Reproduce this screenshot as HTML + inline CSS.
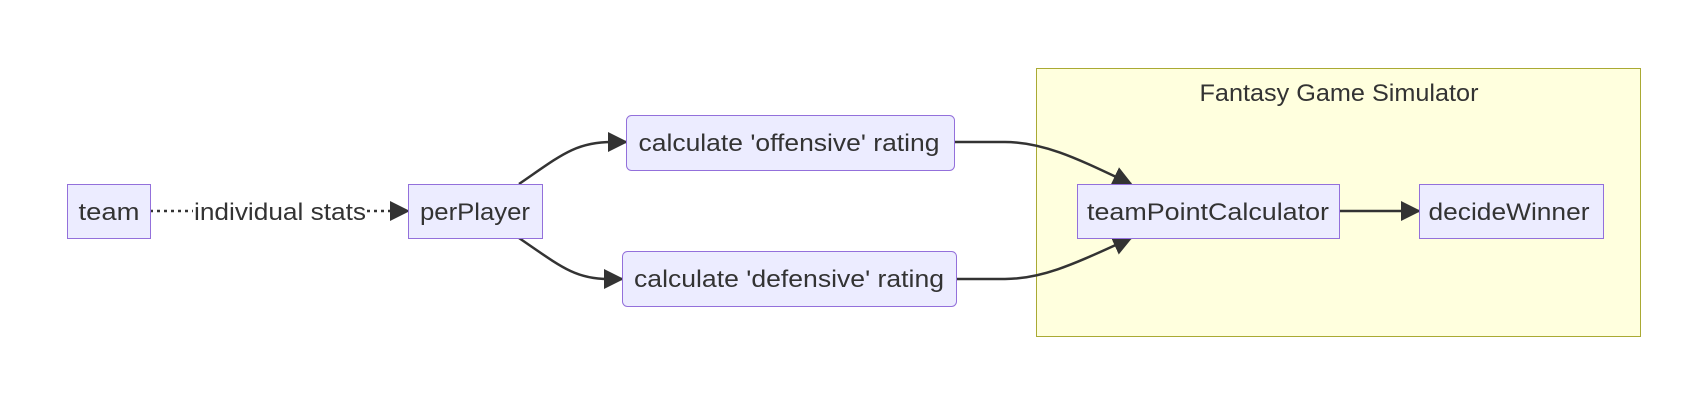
<!DOCTYPE html>
<html><head><meta charset="utf-8"><style>
html,body{margin:0;padding:0;background:#fff;}
svg{display:block;}
text{font-family:"Liberation Sans",sans-serif;font-size:24px;fill:#333;}
</style></head><body>
<svg width="1705" height="408" viewBox="0 0 1705 408" xmlns="http://www.w3.org/2000/svg">
<defs>
<marker id="b" viewBox="0 0 10 10" refX="9" refY="5" markerWidth="20" markerHeight="20" markerUnits="userSpaceOnUse" orient="auto"><path d="M0,0 L10,5 L0,10 z" fill="#333"/></marker>
</defs>
<rect x="1036.5" y="68.5" width="604" height="268" fill="#ffffde" stroke="#aaaa33" stroke-width="1"/>
<text x="1339" y="101" text-anchor="middle" textLength="279" lengthAdjust="spacingAndGlyphs">Fantasy Game Simulator</text>

<g fill="none" stroke="#333" stroke-width="2.5">
<path d="M150,211 L408,211" stroke-dasharray="3,4" marker-end="url(#b)"/>
<path d="M519,184 C560,156 575,142 612,142 L626,142" marker-end="url(#b)"/>
<path d="M519,238 C560,266 575,279 608,279 L622,279" marker-end="url(#b)"/>
<path d="M954,142 L1005,142 C1045,142 1080,160 1131,184" marker-end="url(#b)"/>
<path d="M956,279 L1005,279 C1045,279 1080,261 1131,238" marker-end="url(#b)"/>
<path d="M1339,211 L1419,211" marker-end="url(#b)"/>
</g>
<rect x="193" y="197" width="174" height="28" fill="#fff"/>
<text x="280" y="220" text-anchor="middle" textLength="172" lengthAdjust="spacingAndGlyphs">individual stats</text>

<g fill="#ececff" stroke="#9370db" stroke-width="1">
<rect x="67.5" y="184.5" width="83" height="54"/>
<rect x="408.5" y="184.5" width="134" height="54"/>
<rect x="626.5" y="115.5" width="328" height="55" rx="5"/>
<rect x="622.5" y="251.5" width="334" height="55" rx="5"/>
<rect x="1077.5" y="184.5" width="262" height="54"/>
<rect x="1419.5" y="184.5" width="184" height="54"/>
</g>
<text x="109" y="220" text-anchor="middle" textLength="61" lengthAdjust="spacingAndGlyphs">team</text>
<text x="475" y="220" text-anchor="middle" textLength="110" lengthAdjust="spacingAndGlyphs">perPlayer</text>
<text x="789" y="151" text-anchor="middle" textLength="301" lengthAdjust="spacingAndGlyphs">calculate 'offensive' rating</text>
<text x="789" y="287" text-anchor="middle" textLength="310" lengthAdjust="spacingAndGlyphs">calculate 'defensive' rating</text>
<text x="1208" y="220" text-anchor="middle" textLength="242" lengthAdjust="spacingAndGlyphs">teamPointCalculator</text>
<text x="1509" y="220" text-anchor="middle" textLength="161" lengthAdjust="spacingAndGlyphs">decideWinner</text>
</svg>
</body></html>
